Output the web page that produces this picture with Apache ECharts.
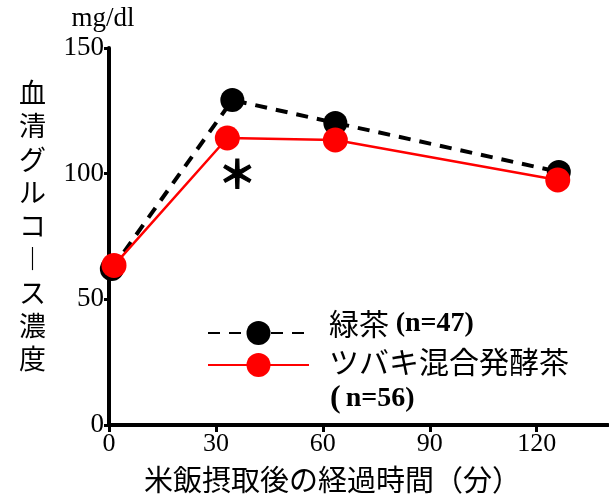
<!DOCTYPE html>
<html>
<head>
<meta charset="utf-8">
<script src="https://cdn.jsdelivr.net/npm/echarts@6/dist/echarts.min.js"></script>
<style>
html,body{margin:0;padding:0;background:#fff;}
#main{width:609px;height:499px;}
</style>
</head>
<body>
<div id="main"></div>
<script>
// ---- data ----
const seriesNames = ['緑茶 (n=47)', 'ツバキ混合発酵茶 (n=56)'];
const greenTeaTime = [0.8, 34.6, 63.5, 126.2];
const greenTeaValues = [62.1, 129.3, 120.2, 100.7];
const camelliaTime = [1.4, 33.2, 63.5, 125.9];
const camelliaValues = [63.5, 114.2, 113.4, 97.5];
const xTickValues = [0, 30, 60, 90, 120];
const yTickValues = [0, 50, 100, 150];
const yUnit = 'mg/dl';
const yTitle = '血清グルコース濃度';
const xTitle = '米飯摂取後の経過時間（分）';
const sigLabel = '＊';

const serif = "'Liberation Serif', 'Noto Sans CJK JP'";
const cjk = "'Noto Sans CJK JP'";

const chart = echarts.init(document.getElementById('main'), null, {renderer: 'canvas'});

function pairs(xs, ys) { return xs.map((x, i) => [x, ys[i]]); }

const yTitleVertical = Array.from(yTitle).map(c => c === 'ー' ? '︱' : c).join('\n');

const option = {
  backgroundColor: '#fff',
  animation: false,
  grid: { left: 109, right: 1, top: 48, bottom: 74, outerBoundsMode: 'none', containLabel: false },
  xAxis: {
    type: 'value', min: 0, max: 140, interval: 30,
    name: xTitle, nameLocation: 'middle', nameGap: 40,
    nameTextStyle: { fontFamily: cjk, fontSize: 29, color: '#000', padding: [0, 52, 0, 0] },
    axisLine: { show: true, lineStyle: { color: '#000', width: 4 } },
    axisTick: { show: true, length: 7, customValues: xTickValues, lineStyle: { color: '#000', width: 3 } },
    axisLabel: { customValues: xTickValues, fontFamily: serif, fontSize: 26, color: '#000', margin: 6 },
    splitLine: { show: false }
  },
  yAxis: {
    type: 'value', min: 0, max: 150, interval: 50,
    name: yUnit, nameLocation: 'end', nameGap: 16,
    nameTextStyle: { fontFamily: serif, fontSize: 27, color: '#000', padding: [0, 12, 0, 0] },
    axisLine: { show: true, lineStyle: { color: '#000', width: 4 } },
    axisTick: { show: true, length: 5, customValues: yTickValues, lineStyle: { color: '#000', width: 3 } },
    axisLabel: { customValues: yTickValues, fontFamily: serif, fontSize: 27, color: '#000', margin: 5 },
    splitLine: { show: false }
  },
  legend: [
    {
      data: [seriesNames[0]], left: 207, top: 309, padding: 0,
      itemWidth: 101, itemHeight: 30, selectedMode: false,
      formatter: () => '{a|緑茶 }{b|(n=47)}\n{s| }',
      textStyle: { color: '#000', rich: {
        a: { fontFamily: cjk, fontSize: 30, lineHeight: 37, color: '#000', padding: [0, 0, 0, 15] },
        b: { fontFamily: serif, fontWeight: 'bold', fontSize: 28, lineHeight: 37, color: '#000' },
        s: { fontSize: 10, lineHeight: 18 }
      } }
    },
    {
      data: [seriesNames[1]], left: 207, top: 323, padding: 0,
      itemWidth: 101, itemHeight: 30, selectedMode: false,
      formatter: () => '{s| }\n{a|ツバキ混合発酵茶}\n{p|(}{b|n=56)}',
      textStyle: { color: '#000', rich: {
        a: { fontFamily: cjk, fontSize: 30, lineHeight: 37, color: '#000', padding: [0, 0, 0, 15] },
        p: { fontFamily: serif, fontWeight: 'bold', fontSize: 32, lineHeight: 37, color: '#000', padding: [0, 5, 0, 16] },
        b: { fontFamily: serif, fontWeight: 'bold', fontSize: 28, lineHeight: 37, color: '#000' },
        s: { fontSize: 10, lineHeight: 31 }
      } }
    }
  ],
  graphic: [
    {
      type: 'text', left: 19, top: 76,
      style: { text: yTitleVertical, fontFamily: cjk, fontSize: 27, lineHeight: 33.3, fill: '#000', align: 'center' }
    }
  ],
  series: [
    {
      name: seriesNames[0], type: 'line', data: pairs(greenTeaTime, greenTeaValues),
      symbol: 'circle', symbolSize: 24, z: 2,
      itemStyle: { color: '#000' },
      lineStyle: { color: '#000', width: 4, type: [12, 9] }
    },
    {
      name: seriesNames[1], type: 'line', data: pairs(camelliaTime, camelliaValues),
      symbol: 'circle', symbolSize: 25, z: 3,
      itemStyle: { color: '#ff0000' },
      lineStyle: { color: '#ff0000', width: 2.5 },
      markPoint: {
        symbol: 'circle', symbolSize: 0,
        label: { show: true, position: 'inside', formatter: sigLabel, fontFamily: cjk, fontWeight: 'bold', fontSize: 38, color: '#000', textBorderColor: '#000', textBorderWidth: 1.2 },
        data: [{ coord: [36, 100] }]
      }
    }
  ]
};
chart.setOption(option);
</script>
</body>
</html>
